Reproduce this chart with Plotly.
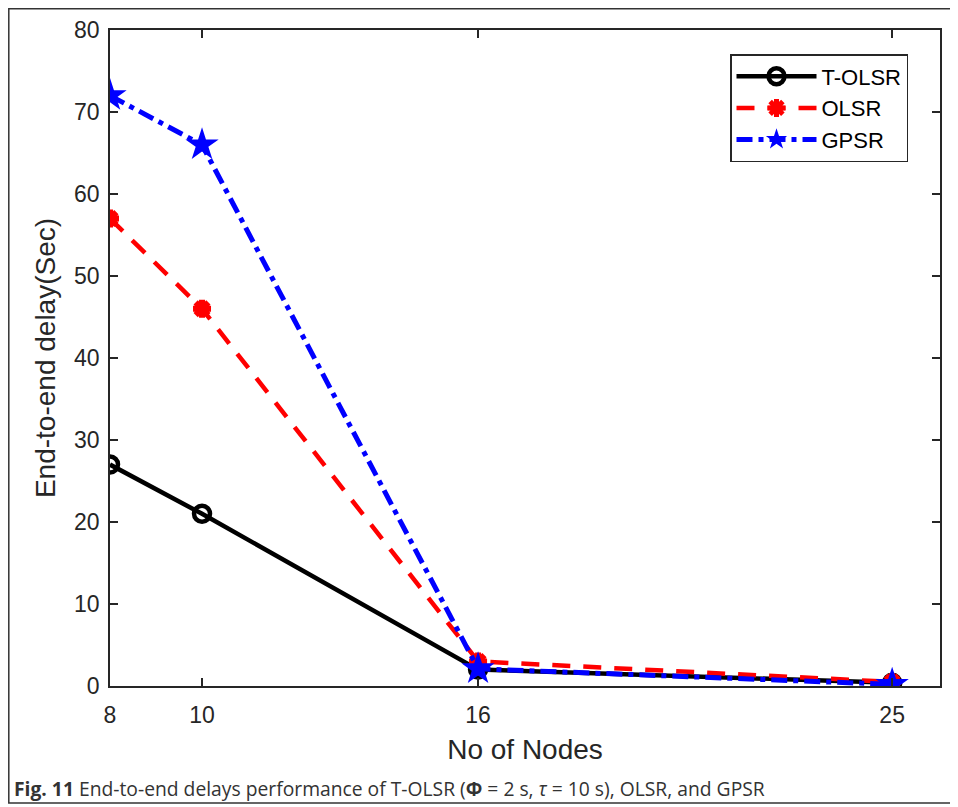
import plotly.graph_objects as go

nodes = [8, 10, 16, 25]
tolsr = [27, 21, 2.0, 0.4]
olsr = [57, 46, 3.0, 0.5]
gpsr = [72, 66, 2.1, 0.2]
x_ticks = [8, 10, 16, 25]
y_ticks = [0, 10, 20, 30, 40, 50, 60, 70, 80]

# page body adds an 8px offset, so figure coordinates are shifted by 8
OFF = 8
W, H = 958, 807
L, T = 110 - OFF, 30 - OFF
pw, ph = 830, 656
R = W - L - pw
B = H - T - ph

def px_x(sx):
    return (sx - OFF - L) / pw

def px_y(sy):
    return (T + ph - (sy - OFF)) / ph

fig = go.Figure()
fig.add_trace(go.Scatter(x=nodes, y=tolsr, name="T-OLSR", mode="lines+markers",
                         line=dict(color="black", width=4.5),
                         marker=dict(symbol="circle-open", size=16, color="black", line=dict(width=4.5))))
fig.add_trace(go.Scatter(x=nodes, y=olsr, name="OLSR", mode="lines+markers",
                         line=dict(color="#ff0000", width=4.5, dash="18px,13px"),
                         marker=dict(symbol="asterisk-open", size=15, color="#ff0000", line=dict(width=6, color="#ff0000"))))
fig.add_trace(go.Scatter(x=nodes, y=gpsr, name="GPSR", mode="lines+markers",
                         line=dict(color="#0000ff", width=5, dash="16px,6px,5px,6px"),
                         marker=dict(symbol="star", size=25, color="#0000ff")))

axis_common = dict(showline=True, linecolor="#262626", linewidth=1.5, mirror="ticks",
                   ticks="inside", ticklen=8, tickwidth=1.5, tickcolor="#262626",
                   showgrid=False, zeroline=False,
                   tickfont=dict(family="Arial, Liberation Sans", size=23, color="#262626"))

title_font = dict(family="Arial, Liberation Sans", size=28, color="#262626")

fig.update_xaxes(range=[8, 26.04], tickvals=x_ticks, ticktext=[str(v) for v in x_ticks],
                 ticklabelstandoff=8,
                 title=dict(text="No of Nodes", font=title_font, standoff=12),
                 **axis_common)
fig.update_yaxes(range=[0, 80], tickvals=y_ticks, ticklabelstandoff=4,
                 title=dict(text="End-to-end delay(Sec)", font=title_font, standoff=10),
                 **axis_common)

# frame around figure
fig.add_shape(type="rect", xref="paper", yref="paper",
              x0=px_x(OFF + 0.8), x1=px_x(975), y0=px_y(803), y1=px_y(OFF + 0.8),
              line=dict(color="#333333", width=1.5), layer="below")

fig.add_annotation(text="<b>Fig. 11</b> End-to-end delays performance of T-OLSR (<b>Φ</b> = 2 s, <i>τ</i> = 10 s), OLSR, and GPSR",
                   xref="paper", yref="paper", x=px_x(12), y=px_y(788),
                   xanchor="left", yanchor="middle", showarrow=False,
                   font=dict(family="Open Sans, Noto Sans", size=19.3, color="#333333"))

fig.update_layout(
    width=W, height=H,
    margin=dict(l=L, r=R, t=T, b=B, autoexpand=False),
    plot_bgcolor="white", paper_bgcolor="white",
    showlegend=True,
    legend=dict(x=px_x(819), y=px_y(54), xanchor="center", yanchor="top",
                bgcolor="white", bordercolor="#262626", borderwidth=1.5,
                font=dict(family="Arial, Liberation Sans", size=22, color="black"),
                itemwidth=80, tracegroupgap=0),
)

fig.write_html("out.html")
